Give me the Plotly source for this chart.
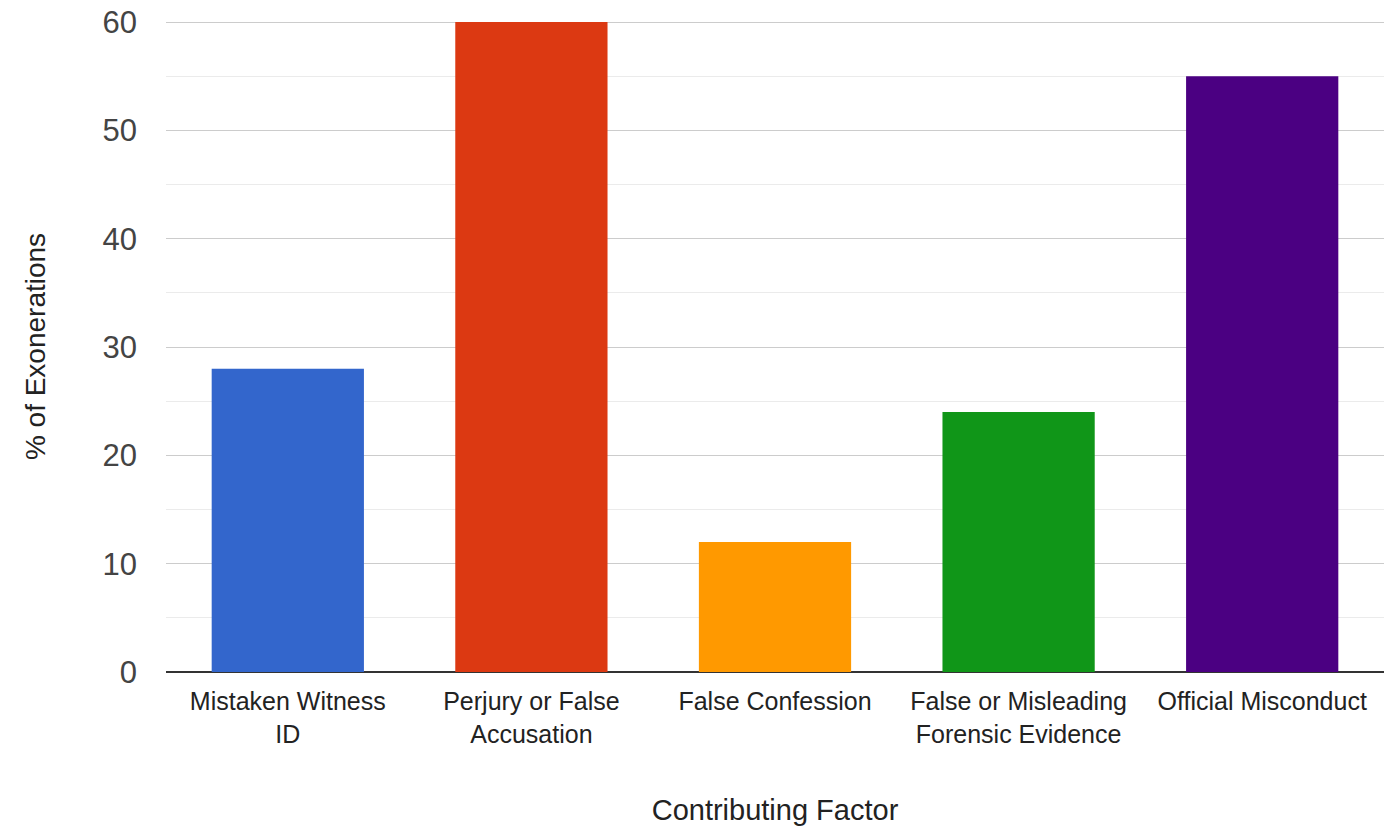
import plotly.graph_objects as go

categories = ["Mistaken Witness<br>ID", "Perjury or False<br>Accusation", "False Confession",
              "False or Misleading<br>Forensic Evidence", "Official Misconduct"]
values = [28, 60, 12, 24, 55]
colors = ["#3366cc", "#dc3912", "#ff9900", "#109618", "#4b0082"]
y_ticks = [0, 10, 20, 30, 40, 50, 60]

fig = go.Figure()
fig.add_trace(go.Bar(x=categories, y=values, marker=dict(color=colors, line=dict(width=0)),
                     showlegend=False))

fig.update_layout(
    width=1384, height=827,
    margin=dict(l=166, r=0, t=21, b=155),
    plot_bgcolor="white", paper_bgcolor="white",
    bargap=0.375,
    font=dict(family="Liberation Sans, Arial, sans-serif", color="#333333"),
    xaxis=dict(
        title=dict(text="Contributing Factor", font=dict(size=29, color="#222222"), standoff=53),
        tickfont=dict(size=25, color="#222222"),
        showgrid=False, showline=False, ticks="",
        ticklabelstandoff=12, automargin=False,
    ),
    yaxis=dict(
        title=dict(text="% of Exonerations", font=dict(size=28, color="#222222"), standoff=48),
        range=[0, 60.1], tickvals=y_ticks,
        tickfont=dict(size=31, color="#444444"),
        ticklabeloverflow="allow", automargin=False,
        showgrid=True, gridcolor="#cccccc", gridwidth=1,
        minor=dict(tickvals=[5, 15, 25, 35, 45, 55], showgrid=True, gridcolor="#ebebeb", gridwidth=1),
        zeroline=True, zerolinecolor="#333333", zerolinewidth=2,
        ticks="", ticklabelstandoff=28,
    ),
)

fig.write_html("out.html", config={"displayModeBar": False},
               post_script="document.body.style.margin='0';document.body.style.overflow='hidden';")
